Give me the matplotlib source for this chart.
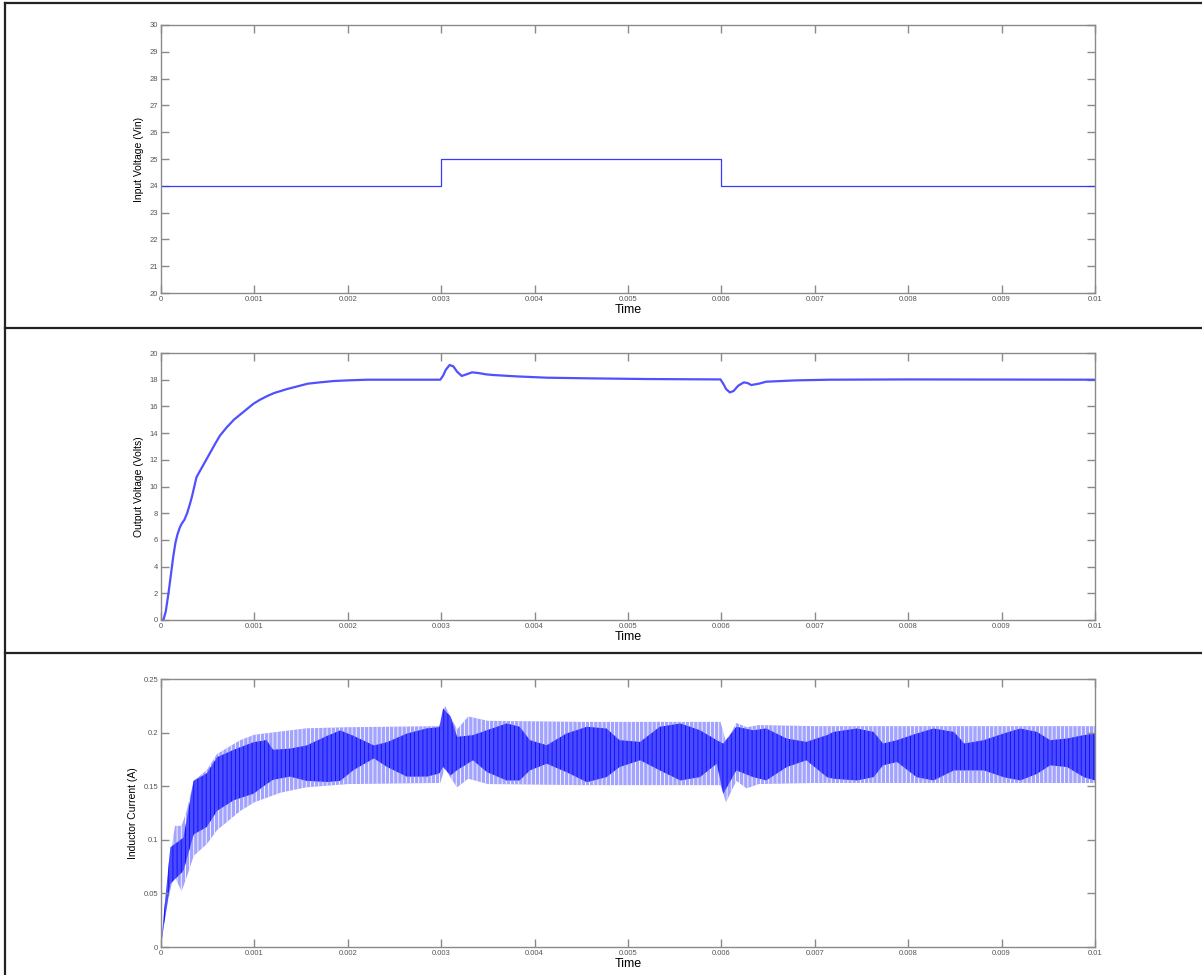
import matplotlib
matplotlib.use("Agg")
import matplotlib.pyplot as plt
import numpy as np
from matplotlib.lines import Line2D
from matplotlib.ticker import MultipleLocator, FormatStrFormatter

plt.rcParams.update({
    "font.family": ["Liberation Sans", "DejaVu Sans"],
    "font.size": 7,
    "axes.linewidth": 1.0,
    "axes.edgecolor": "#8a8a8a",
    "xtick.color": "#8a8a8a",
    "ytick.color": "#8a8a8a",
    "xtick.labelcolor": "#555555",
    "ytick.labelcolor": "#555555",
    "hatch.linewidth": 0.6,
})

# Input voltage (step change)
vin_t = [0.0, 0.003, 0.003, 0.006, 0.006, 0.01]
vin_v = [24, 24, 25, 25, 24, 24]

# Output voltage
vout_t = [0.0, 0.000025, 0.00005, 0.00008, 0.00011, 0.00013, 0.000155, 0.000176,
          0.0002, 0.00022, 0.00025, 0.00028, 0.00031, 0.00033, 0.00036, 0.00038,
          0.00042, 0.00046, 0.0005, 0.00054, 0.00058, 0.00063, 0.0007, 0.00078,
          0.00085, 0.00092, 0.00099, 0.00106, 0.00113, 0.00121, 0.00128, 0.00135,
          0.00146, 0.00157, 0.0017, 0.00185, 0.002, 0.00221, 0.0026, 0.00299,
          0.00302, 0.00305, 0.00309, 0.00313, 0.00317, 0.00322, 0.00327, 0.00333,
          0.0034, 0.00348, 0.00356, 0.0038, 0.00413, 0.0046, 0.0052, 0.00599,
          0.00602, 0.00605, 0.00609, 0.00613, 0.00618, 0.00624, 0.00628, 0.00632,
          0.0064, 0.00648, 0.0068, 0.00716, 0.008, 0.01]
vout_v = [0.0, 0.0, 0.6, 2.0, 3.6, 4.7, 5.8, 6.4,
          6.9, 7.2, 7.5, 8.0, 8.7, 9.2, 10.1, 10.7,
          11.2, 11.7, 12.2, 12.7, 13.2, 13.8, 14.4, 15.0,
          15.4, 15.8, 16.2, 16.5, 16.75, 17.0, 17.15, 17.3,
          17.5, 17.7, 17.8, 17.9, 17.95, 18.0, 18.0, 18.0,
          18.3, 18.75, 19.1, 19.0, 18.6, 18.28, 18.4, 18.55,
          18.5, 18.4, 18.35, 18.25, 18.15, 18.1, 18.05, 18.02,
          17.7, 17.3, 17.05, 17.15, 17.55, 17.8, 17.75, 17.6,
          17.7, 17.85, 17.95, 18.0, 18.02, 18.0]

# Inductor current: outer ripple envelope
il_t = [0.0, 0.00003, 0.00008, 0.000115, 0.00015, 0.00022, 0.000275, 0.00035,
        0.00049, 0.0006, 0.00085, 0.001, 0.00128, 0.00156, 0.002, 0.00299,
        0.00304, 0.0031, 0.00317, 0.00329, 0.0035, 0.0045, 0.00599,
        0.00605, 0.00616, 0.00627, 0.0064, 0.007, 0.01]
il_hi = [0.0, 0.03, 0.071, 0.093, 0.113, 0.113, 0.127, 0.155,
         0.165, 0.18, 0.193, 0.198, 0.201, 0.204, 0.205, 0.206,
         0.225, 0.215, 0.203, 0.215, 0.211, 0.210, 0.210,
         0.191, 0.209, 0.205, 0.207, 0.206, 0.206]
il_lo = [0.0, 0.02, 0.045, 0.059, 0.065, 0.052, 0.065, 0.085,
         0.096, 0.109, 0.127, 0.135, 0.144, 0.149, 0.152, 0.153,
         0.167, 0.158, 0.149, 0.157, 0.152, 0.151, 0.151,
         0.135, 0.155, 0.148, 0.152, 0.153, 0.153]

# Inductor current: dense inner band
band_t = [0.0, 0.00003, 0.0001, 0.00024, 0.00035, 0.00049, 0.0006, 0.00078, 0.00099,
          0.00113, 0.0012, 0.00138, 0.00156, 0.00178, 0.00192, 0.00206, 0.00228,
          0.00242, 0.00263, 0.00285, 0.00298, 0.00302, 0.0031, 0.00317, 0.00334,
          0.00349, 0.0037, 0.00384, 0.00395, 0.00413, 0.00434, 0.00456, 0.00477,
          0.00491, 0.00513, 0.00534, 0.00556, 0.00577, 0.00595, 0.00602, 0.00616,
          0.00634, 0.00648, 0.0067, 0.00691, 0.00713, 0.0072, 0.00745, 0.00763,
          0.00773, 0.00788, 0.00809, 0.00827, 0.00849, 0.0086, 0.00881, 0.00902,
          0.0092, 0.00938, 0.00952, 0.0097, 0.00988, 0.01]
band_hi = [0.0, 0.03, 0.093, 0.102, 0.155, 0.162, 0.177, 0.184, 0.191,
           0.193, 0.184, 0.185, 0.188, 0.197, 0.202, 0.197, 0.188,
           0.191, 0.199, 0.204, 0.205, 0.2225, 0.215, 0.196, 0.1976,
           0.2022, 0.2085, 0.2054, 0.1929, 0.1882, 0.1991, 0.2054, 0.2038,
           0.1929, 0.1913, 0.2054, 0.2085, 0.2022, 0.1929, 0.1897, 0.2054,
           0.2022, 0.2038, 0.1944, 0.1913, 0.1976, 0.2006, 0.2038, 0.2006,
           0.1898, 0.1929, 0.1991, 0.2038, 0.2006, 0.1898, 0.1929, 0.1991,
           0.2038, 0.2006, 0.1929, 0.1944, 0.1976, 0.1991]
band_lo = [0.0, 0.02, 0.059, 0.071, 0.105, 0.112, 0.127, 0.137, 0.143,
           0.152, 0.156, 0.159, 0.155, 0.154, 0.155, 0.165, 0.176,
           0.168, 0.159, 0.159, 0.162, 0.168, 0.160, 0.165, 0.1742,
           0.1632, 0.1554, 0.1554, 0.1648, 0.1710, 0.1632, 0.1538, 0.1585,
           0.1679, 0.1742, 0.1648, 0.1554, 0.1585, 0.1710, 0.1429, 0.1648,
           0.1585, 0.1554, 0.1679, 0.1742, 0.1585, 0.1570, 0.1554, 0.1585,
           0.1695, 0.1726, 0.1585, 0.1554, 0.1648, 0.1648, 0.1648, 0.1585,
           0.1554, 0.1616, 0.1695, 0.1679, 0.1585, 0.1554]

fig = plt.figure(figsize=(12.02, 9.75), dpi=100)

# panel frames (in pixels from top-left)
W, H = 1202, 975
for yp in [3, 328, 653]:
    fig.add_artist(Line2D([5 / W, 1.0], [1 - yp / H, 1 - yp / H],
                          transform=fig.transFigure, color="#222222", lw=1.6))
fig.add_artist(Line2D([5 / W, 5 / W], [1 - 3 / H, 0.0],
                      transform=fig.transFigure, color="#222222", lw=1.6))

left, width = 161 / W, (1095 - 161) / W
ax1 = fig.add_axes([left, 1 - 293 / H, width, 268 / H])
ax2 = fig.add_axes([left, 1 - 620 / H, width, 267 / H])
ax3 = fig.add_axes([left, 1 - 947 / H, width, 268 / H])

ax1.plot(vin_t, vin_v, color="#3a3aff", lw=0.9)
ax1.set_ylim(20, 30)
ax1.yaxis.set_major_locator(MultipleLocator(1))
ax1.set_ylabel("Input Voltage (Vin)", fontsize=7.5)

ax2.plot(vout_t, vout_v, color="#5050ff", lw=1.6)
ax2.set_ylim(0, 20)
ax2.yaxis.set_major_locator(MultipleLocator(2))
ax2.set_ylabel("Output Voltage (Volts)", fontsize=7.5)

ax3.fill_between(il_t, il_lo, il_hi, facecolor="#a2a2ff", edgecolor="white",
                 hatch="|" * 4, lw=0)
ax3.fill_between(band_t, band_lo, band_hi, facecolor="#4a4aff", edgecolor="#0a0aff",
                 hatch="|" * 4, lw=0)
ax3.set_ylim(0, 0.25)
ax3.yaxis.set_major_locator(MultipleLocator(0.05))
ax3.set_ylabel("Inductor Current (A)", fontsize=7.5)

for ax in [ax1, ax2, ax3]:
    ax.set_xlim(0, 0.01)
    ax.xaxis.set_major_locator(MultipleLocator(0.001))
    ax.xaxis.set_major_formatter(FormatStrFormatter("%g"))
    ax.yaxis.set_major_formatter(FormatStrFormatter("%g"))
    ax.set_xlabel("Time", fontsize=9, color="black", labelpad=1)
    ax.xaxis.set_ticks_position("both")
    ax.yaxis.set_ticks_position("both")
    ax.tick_params(axis="both", which="major", direction="in", length=6,
                   width=1, labelsize=5.5, pad=2)

plt.savefig("out.png", dpi=100)
